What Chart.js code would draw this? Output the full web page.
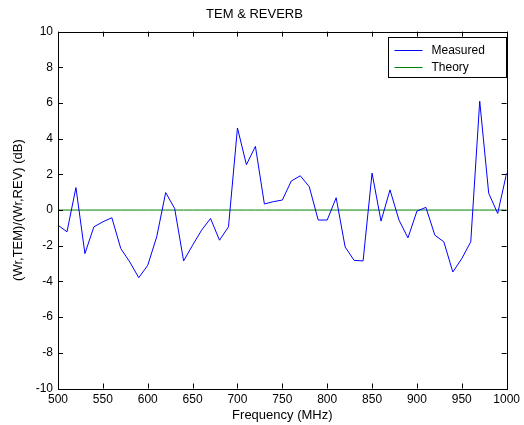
<!DOCTYPE html>
<html>
<head>
<meta charset="utf-8">
<script src="https://cdn.jsdelivr.net/npm/chart.js@4/dist/chart.umd.min.js"></script>
<style>
  html, body { margin: 0; padding: 0; background: #fff; }
  #wrap { width: 524px; height: 425px; }
</style>
</head>
<body>
<div id="wrap"><canvas id="tem"></canvas></div>
<script>
// frequency points (MHz)
const freqs = [500,510,520,530,540,550,560,570,580,590,600,610,620,630,640,650,660,670,680,690,
  700,710,720,730,740,750,760,770,780,790,800,810,820,830,840,850,860,870,880,890,
  900,910,920,930,940,950,960,970,980,990,1000];
// measured ratio (dB)
const measured = [-0.85,-1.22,1.26,-2.44,-0.94,-0.66,-0.43,-2.16,-2.91,-3.79,-3.1,-1.5,0.98,0.09,-2.85,-1.97,-1.13,-0.47,-1.69,-0.94,
  4.6,2.54,3.57,0.34,0.47,0.56,1.63,1.92,1.31,-0.56,-0.56,0.69,-2.07,-2.82,-2.85,2.07,-0.62,1.13,-0.56,-1.56,
  -0.06,0.15,-1.41,-1.78,-3.47,-2.72,-1.78,6.1,0.94,-0.19,2.07];
const theory = freqs.map(() => 0);
const xTicks = [500,550,600,650,700,750,800,850,900,950,1000];
const yTicks = [-10,-8,-6,-4,-2,0,2,4,6,8,10];

const FONT = 'Liberation Sans, Arial, sans-serif';

// MATLAB-style box, inward ticks and legend
const boxPlugin = {
  id: 'box',
  afterDraw(chart) {
    const { ctx, chartArea: a, scales } = chart;
    ctx.save();
    ctx.strokeStyle = '#000';
    ctx.lineWidth = 1;
    ctx.strokeRect(Math.round(a.left) + 0.5, Math.round(a.top) + 0.5,
      Math.round(a.right - a.left), Math.round(a.bottom - a.top));
    const t = 5;
    ctx.beginPath();
    xTicks.forEach(v => {
      const x = Math.round(scales.x.getPixelForValue(v)) + 0.5;
      ctx.moveTo(x, a.bottom); ctx.lineTo(x, a.bottom - t);
      ctx.moveTo(x, a.top); ctx.lineTo(x, a.top + t);
    });
    yTicks.forEach(v => {
      const y = Math.round(scales.y.getPixelForValue(v)) + 0.5;
      ctx.moveTo(a.left, y); ctx.lineTo(a.left + t, y);
      ctx.moveTo(a.right, y); ctx.lineTo(a.right - t, y);
    });
    ctx.stroke();

    // legend
    const lw = 118, lh = 40;
    const lx = Math.round(a.right) - lw - 0.5, ly = Math.round(a.top) + 5.5;
    ctx.fillStyle = '#fff';
    ctx.fillRect(lx, ly, lw, lh);
    ctx.strokeRect(lx, ly, lw, lh);
    ctx.font = '12px ' + FONT;
    ctx.textBaseline = 'middle';
    chart.data.datasets.forEach((ds, i) => {
      const yy = Math.round(ly + 12 + i * 17) + 0.5;
      ctx.strokeStyle = ds.borderColor;
      ctx.beginPath();
      ctx.moveTo(lx + 6, yy); ctx.lineTo(lx + 34, yy);
      ctx.stroke();
      ctx.fillStyle = '#000';
      ctx.fillText(ds.label, lx + 43, yy);
    });
    ctx.restore();
  }
};

new Chart(document.getElementById('tem').getContext('2d'), {
  type: 'line',
  data: {
    datasets: [
      { label: 'Measured', data: freqs.map((f, i) => ({ x: f, y: measured[i] })),
        borderColor: '#0000ff', borderWidth: 1, pointRadius: 0, tension: 0, fill: false },
      { label: 'Theory', data: freqs.map((f, i) => ({ x: f, y: theory[i] })),
        borderColor: '#008000', borderWidth: 1, pointRadius: 0, tension: 0, fill: false }
    ]
  },
  options: {
    responsive: true,
    maintainAspectRatio: false,
    animation: false,
    layout: { padding: { top: 4, right: 15, left: 0, bottom: 0 } },
    plugins: {
      legend: { display: false },
      tooltip: { enabled: false },
      title: {
        display: true, text: 'TEM & REVERB', color: '#000',
        font: { family: FONT, size: 13, weight: 'normal' },
        padding: { top: 3, bottom: 9 }
      }
    },
    scales: {
      x: {
        type: 'linear', min: 500, max: 1000,
        afterBuildTicks: s => { s.ticks = xTicks.map(v => ({ value: v })); },
        grid: { display: false, drawTicks: false },
        border: { display: false },
        ticks: { color: '#000', font: { family: FONT, size: 12 }, padding: 4, maxRotation: 0,
          callback: v => String(v) },
        title: { display: true, text: 'Frequency (MHz)', color: '#000',
          font: { family: FONT, size: 13 }, padding: { top: 0, bottom: 2 } },
        afterFit: s => { s.height = 36.5; }
      },
      y: {
        min: -10, max: 10,
        afterBuildTicks: s => { s.ticks = yTicks.map(v => ({ value: v })); },
        grid: { display: false, drawTicks: false },
        border: { display: false },
        ticks: { color: '#000', font: { family: FONT, size: 12 }, padding: 5 },
        title: { display: true, text: '(Wr,TEM)/(Wr,REV) (dB)', color: '#000',
          font: { family: FONT, size: 13 }, padding: { top: 11, bottom: 0 } },
        afterFit: s => { s.width = 58; }
      }
    }
  },
  plugins: [boxPlugin]
});
</script>
</body>
</html>
